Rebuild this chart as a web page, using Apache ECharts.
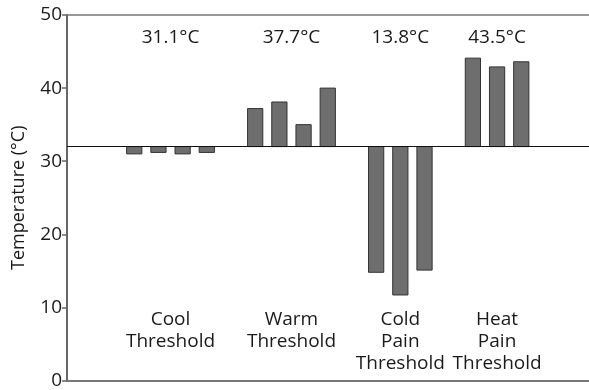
<!DOCTYPE html>
<html>
<head>
<meta charset="utf-8">
<script src="https://cdn.jsdelivr.net/npm/echarts@6/dist/echarts.min.js"></script>
<style>
  html, body { margin: 0; padding: 0; background: #fff; }
  #chart { width: 589px; height: 390px; }
</style>
</head>
<body>
<div id="chart"></div>
<script>
// ---- Data ----
const categories = ['Cool\nThreshold', 'Warm\nThreshold', 'Cold\nPain\nThreshold', 'Heat\nPain\nThreshold'];
const meanLabels = ['31.1°C', '37.7°C', '13.8°C', '43.5°C'];
const coolValues = [31.0, 31.2, 31.0, 31.2];
const warmValues = [37.2, 38.1, 35.0, 40.0];
const coldPainValues = [14.8, 11.7, 15.1];
const heatPainValues = [44.1, 42.9, 43.6];
const baseline = 32;
const yTicks = [0, 10, 20, 30, 40, 50];
const yAxisName = 'Temperature (°C)';

// ---- Build bar slots (one empty slot between groups) ----
const groups = [coolValues, warmValues, coldPainValues, heatPainValues];
const barData = [];
const groupCenters = [];
let slot = 0;
groups.forEach((vals) => {
  const start = slot;
  vals.forEach(v => { barData.push([slot, v]); slot++; });
  groupCenters.push((start + slot - 1) / 2);
  slot++; // gap
});
const labelTopValue = 9.9;
const meanLabelValue = 46.9;
const catLabelData = categories.map((c, i) => [groupCenters[i], labelTopValue, c]);
const meanLabelData = meanLabels.map((m, i) => [groupCenters[i], meanLabelValue, m]);

const FONT = '"Open Sans", sans-serif';
const TXT = '#1a1a1a';
const FS = 19;
const xMin = -2.78, xMax = 18.8;

const chart = echarts.init(document.getElementById('chart'));
chart.setOption({
  animation: false,
  backgroundColor: '#fff',
  grid: { left: 67, right: 0, top: 15, bottom: 6 },
  xAxis: [
    { type: 'value', min: xMin, max: xMax, position: 'bottom',
      axisLine: { show: true, onZero: false, lineStyle: { color: '#777', width: 2 } },
      axisTick: { show: false }, axisLabel: { show: false }, splitLine: { show: false } },
    { type: 'value', min: xMin, max: xMax, position: 'top',
      axisLine: { show: true, onZero: false, lineStyle: { color: '#777', width: 1.5 } },
      axisTick: { show: false }, axisLabel: { show: false }, splitLine: { show: false } }
  ],
  yAxis: {
    type: 'value', min: yTicks[0], max: yTicks[yTicks.length - 1], interval: 10,
    name: yAxisName, nameLocation: 'middle', nameGap: 39,
    nameTextStyle: { fontFamily: FONT, fontSize: FS - 1, color: TXT },
    axisLine: { show: true, onZero: false, lineStyle: { color: '#666', width: 2 } },
    axisTick: { show: true, length: 5, lineStyle: { color: '#666', width: 1.5 } },
    axisLabel: { fontFamily: FONT, fontSize: FS, color: TXT, margin: 5 },
    splitLine: { show: false }
  },
  series: [
    {
      type: 'custom',
      xAxisIndex: 0,
      data: barData,
      renderItem: function (params, api) {
        const x = api.value(0), v = api.value(1);
        const p1 = api.coord([x, baseline]);
        const p2 = api.coord([x, v]);
        const w = api.size([0.63, 0])[0];
        const top = Math.min(p1[1], p2[1]);
        const h = Math.abs(p1[1] - p2[1]);
        return {
          type: 'rect',
          shape: { x: p1[0] - w / 2, y: top, width: w, height: h },
          style: { fill: '#6e6e6e', stroke: '#333', lineWidth: 1 }
        };
      },
      markLine: {
        silent: true, symbol: 'none', label: { show: false },
        lineStyle: { color: '#111', width: 1, type: 'solid' },
        data: [{ yAxis: baseline }]
      },
      z: 2
    },
    {
      type: 'custom',
      xAxisIndex: 0,
      data: catLabelData,
      renderItem: function (params, api) {
        const p = api.coord([api.value(0), api.value(1)]);
        return {
          type: 'text',
          x: p[0], y: p[1],
          style: { text: catLabelData[params.dataIndex][2], fontFamily: FONT, fontSize: FS,
            fill: TXT, align: 'center', verticalAlign: 'top', lineHeight: 22 }
        };
      }
    },
    {
      type: 'custom',
      xAxisIndex: 0,
      data: meanLabelData,
      renderItem: function (params, api) {
        const p = api.coord([api.value(0), api.value(1)]);
        return {
          type: 'text',
          x: p[0], y: p[1],
          style: { text: meanLabelData[params.dataIndex][2], fontFamily: FONT, fontSize: FS,
            fill: TXT, align: 'center', verticalAlign: 'middle' }
        };
      }
    }
  ]
});
</script>
</body>
</html>
